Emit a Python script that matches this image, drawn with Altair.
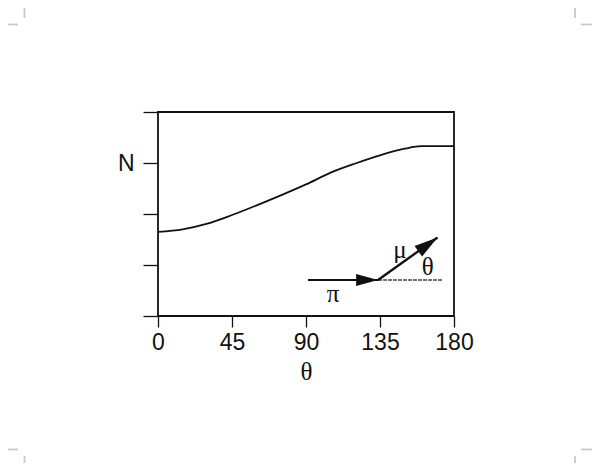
import math
import altair as alt
import pandas as pd

# Curve N(theta) (y axis in tick units 0..4, "N" at 3)
theta = [0, 15, 30, 45, 60, 75, 90, 105, 120, 135, 150, 160, 170, 180]
n_val = [1.65, 1.70, 1.81, 1.98, 2.17, 2.37, 2.58, 2.81, 2.99, 3.15, 3.28, 3.33, 3.33, 3.33]

x_ticks = [0, 45, 90, 135, 180]
y_ticks = [0, 1, 2, 3, 4]
y_label_at = 3
y_label_text = "N"
x_title = "θ"

# Inset diagram (data units)
pi_x = [91.2, 133.8]
pi_y = [0.706, 0.706]
mu_x = [133.8, 170.0]
mu_y = [0.706, 1.54]
dash_x = [133.8, 173.3]
dash_y = [0.706, 0.706]
inset_labels = ["π", "μ", "θ"]
inset_lx = [106.4, 147.2, 164.0]
inset_ly = [0.44, 1.30, 0.96]

W, H = 296, 204

df_curve = pd.DataFrame({"theta": theta, "N": n_val})

xs = alt.Scale(domain=[0, 180], nice=False, zero=False)
ys = alt.Scale(domain=[0, 4], nice=False, zero=False)

FONT = "Liberation Sans"
SERIF = "Liberation Serif"

curve = alt.Chart(df_curve).mark_line(color="#111", strokeWidth=1.8, interpolate="monotone").encode(
    x=alt.X("theta:Q", scale=xs,
            axis=alt.Axis(values=x_ticks, title=x_title, grid=False, tickSize=11, tickColor="#111",
                          tickWidth=1.3, domain=False, labelFontSize=23, labelFont=FONT,
                          labelColor="#111", labelPadding=4, labelFlush=False,
                          titleFont=SERIF, titleFontSize=25, titleFontWeight="normal",
                          titleColor="#111", titlePadding=5)),
    y=alt.Y("N:Q", scale=ys,
            axis=alt.Axis(values=y_ticks, title=None, grid=False, tickSize=15, tickColor="#111",
                          tickWidth=1.3, domain=False,
                          labelExpr=f"datum.value == {y_label_at} ? '{y_label_text}' : ''",
                          labelFontSize=23, labelFont=FONT, labelColor="#111", labelPadding=9)),
)

def seg(xv, yv):
    return pd.DataFrame({"x": xv, "y": yv, "o": list(range(len(xv)))})

pi_line = alt.Chart(seg(pi_x, pi_y)).mark_line(color="#111", strokeWidth=2).encode(
    x=alt.X("x:Q", scale=xs), y=alt.Y("y:Q", scale=ys), order="o:Q")
mu_line = alt.Chart(seg(mu_x, mu_y)).mark_line(color="#111", strokeWidth=2.4).encode(
    x=alt.X("x:Q", scale=xs), y=alt.Y("y:Q", scale=ys), order="o:Q")
dash_line = alt.Chart(seg(dash_x, dash_y)).mark_line(color="#444", strokeWidth=1.6, strokeDash=[4, 1]).encode(
    x=alt.X("x:Q", scale=xs), y=alt.Y("y:Q", scale=ys), order="o:Q")

# arrowheads: direction in pixel space
def angle_deg(x0, y0, x1, y1):
    dx = (x1 - x0) / 180 * W
    dy = -(y1 - y0) / 4 * H
    a = math.degrees(math.atan2(dy, dx))
    return a % 360

heads = pd.DataFrame({
    "x": [pi_x[1], mu_x[1]],
    "y": [pi_y[1], mu_y[1]],
    "ang": [angle_deg(pi_x[0], pi_y[0], pi_x[1], pi_y[1]), angle_deg(mu_x[0], mu_y[0], mu_x[1], mu_y[1])],
    "sz": [480, 560],
})
arrow_shape = "M0,0L-2,-0.55L-2,0.55Z"
head_marks = alt.Chart(heads).mark_point(shape=arrow_shape, filled=True, color="#111", opacity=1).encode(
    x=alt.X("x:Q", scale=xs), y=alt.Y("y:Q", scale=ys),
    size=alt.Size("sz:Q", scale=None),
    angle=alt.Angle("ang:Q", scale=None))

labels_df = pd.DataFrame({"t": inset_labels, "x": inset_lx, "y": inset_ly})
label_marks = alt.Chart(labels_df).mark_text(font=SERIF, fontSize=25, color="#111", baseline="middle", align="center").encode(
    x=alt.X("x:Q", scale=xs), y=alt.Y("y:Q", scale=ys), text="t:N")

# printer's crop marks (decoration, pixel positions relative to plot origin)
CROP = "#c8c8c8"
def crop(x, x2, y, y2):
    return alt.Chart(pd.DataFrame({"a": [0]})).mark_rule(color=CROP, strokeWidth=1.8).encode(
        x=alt.value(x), x2=alt.value(x2), y=alt.value(y), y2=alt.value(y2))

crops = [
    crop(-133.5, -133.5, -104, -94), crop(-150, -140, -87.5, -87.5),
    crop(417, 417, -104, -94), crop(423, 434, -87.5, -87.5),
    crop(-150, -140, 337.5, 337.5), crop(-133.5, -133.5, 344, 355),
    crop(423, 434, 337.5, 337.5), crop(417, 417, 344, 355),
]

chart = alt.layer(curve, dash_line, pi_line, mu_line, head_marks, label_marks, *crops).properties(
    width=W, height=H,
    background="white",
    autosize=alt.AutoSizeParams(type="none"),
    padding={"left": 150, "top": 104, "right": 138, "bottom": 147},
).configure_view(stroke="#111", strokeWidth=1.8)

chart.save("out.html", embed_options={"renderer": "svg", "actions": False})
